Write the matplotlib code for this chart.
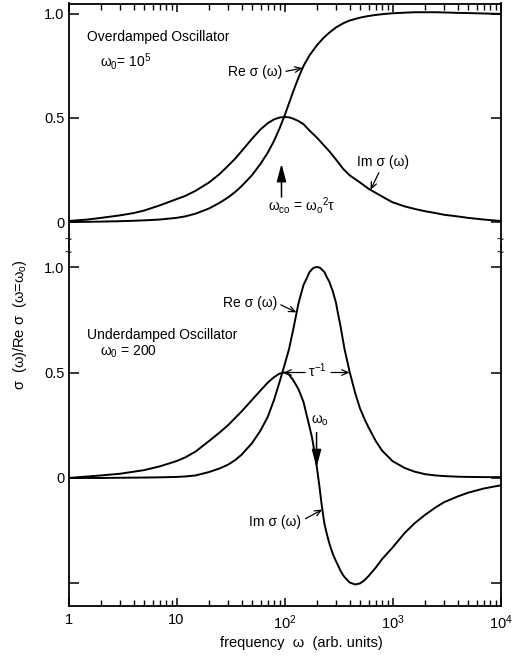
import matplotlib
matplotlib.use("Agg")
import matplotlib.pyplot as plt
from matplotlib.ticker import FixedLocator, LogLocator, NullFormatter, FixedFormatter

plt.rcParams['font.family'] = ['Liberation Sans', 'DejaVu Sans']
plt.rcParams['mathtext.fontset'] = 'custom'
plt.rcParams['mathtext.rm'] = 'Liberation Sans'
plt.rcParams['mathtext.it'] = 'Liberation Sans'
plt.rcParams['mathtext.sf'] = 'Liberation Sans'
plt.rcParams['mathtext.bf'] = 'Liberation Sans:bold'

# ---- Overdamped oscillator (omega_0 = 1e5) ----
freq_over = [1, 1.5, 2, 3, 4, 5, 7, 10, 12, 15, 20, 25, 30, 35, 40, 50, 60,
             70, 80, 90, 100, 110, 120, 135, 150, 170, 200, 230, 260, 300,
             350, 400, 500, 600, 700, 850, 1000, 1300, 1600, 2000, 2500,
             3000, 4000, 5000, 7000, 10000]
re_over = [0.0, 0.001, 0.002, 0.004, 0.006, 0.008, 0.012, 0.02, 0.027, 0.04,
           0.065, 0.092, 0.118, 0.145, 0.172, 0.225, 0.28, 0.333, 0.39, 0.45,
           0.51, 0.57, 0.625, 0.695, 0.75, 0.80, 0.85, 0.885, 0.91, 0.935,
           0.955, 0.968, 0.982, 0.99, 0.995, 1.0, 1.003, 1.006, 1.008, 1.008,
           1.008, 1.007, 1.005, 1.004, 1.002, 1.0]
im_over = [0.005, 0.012, 0.02, 0.032, 0.043, 0.055, 0.08, 0.11, 0.125, 0.15,
           0.19, 0.23, 0.27, 0.305, 0.34, 0.40, 0.445, 0.475, 0.493, 0.502,
           0.505, 0.503, 0.497, 0.485, 0.47, 0.44, 0.405, 0.37, 0.34, 0.30,
           0.255, 0.225, 0.19, 0.16, 0.14, 0.115, 0.095, 0.075, 0.063, 0.052,
           0.043, 0.035, 0.027, 0.02, 0.012, 0.005]

# ---- Underdamped oscillator (omega_0 = 200) ----
freq_under = [1, 2, 3, 5, 7, 10, 12, 15, 20, 25, 30, 35, 40, 50, 60, 70, 80,
              90, 100, 110, 120, 135, 150, 160, 170, 180, 185, 190, 200, 210,
              215, 220, 230, 235, 245, 260, 280, 300, 310, 330, 350, 360, 400,
              450, 500, 550, 600, 700, 800, 1000, 1300, 1600, 2000, 2500,
              3000, 4000, 5000, 7000, 10000]
re_under = [0.0, 0.0, 0.001, 0.002, 0.003, 0.005, 0.007, 0.012, 0.028, 0.045,
            0.063, 0.085, 0.11, 0.165, 0.225, 0.29, 0.37, 0.455, 0.535, 0.61,
            0.70, 0.83, 0.915, 0.945, 0.975, 0.99, 0.995, 0.998, 1.0, 0.998,
            0.995, 0.99, 0.98, 0.975, 0.955, 0.93, 0.885, 0.83, 0.79, 0.72,
            0.645, 0.61, 0.505, 0.405, 0.33, 0.28, 0.24, 0.175, 0.13, 0.08,
            0.047, 0.03, 0.018, 0.012, 0.009, 0.006, 0.005, 0.004, 0.004]
im_under = [0.0, 0.012, 0.02, 0.037, 0.055, 0.08, 0.097, 0.125, 0.175, 0.215,
            0.25, 0.285, 0.315, 0.37, 0.415, 0.452, 0.478, 0.495, 0.50, 0.49,
            0.465, 0.42, 0.36, 0.30, 0.245, 0.19, 0.155, 0.12, 0.045, -0.035,
            -0.078, -0.12, -0.19, -0.22, -0.26, -0.31, -0.36, -0.395, -0.41,
            -0.44, -0.462, -0.47, -0.495, -0.505, -0.50, -0.485, -0.465,
            -0.425, -0.385, -0.33, -0.26, -0.215, -0.175, -0.14, -0.115,
            -0.088, -0.07, -0.05, -0.035]

x_ticks = [1, 10, 100, 1000, 10000]
x_tick_labels = ["1", "10", r"$10^2$", r"$10^3$", r"$10^4$"]
y_ticks_over = [0, 0.5, 1.0]
y_labels_over = ["0", "0.5", "1.0"]
y_ticks_under = [-0.5, 0, 0.5, 1.0]
y_labels_under = ["", "0", "0.5", "1.0"]

W, H = 512, 658
fig = plt.figure(figsize=(W / 100, H / 100), dpi=100)
left, right = 68.5 / W, 500.5 / W
y_top, y_break, y_bot = 1 - 3.5 / H, 1 - 247 / H, 1 - 606 / H
ax_top = fig.add_axes([left, y_break, right - left, y_top - y_break])
ax_bot = fig.add_axes([left, y_bot, right - left, y_break - y_bot])

LW = 1.4
for ax in (ax_top, ax_bot):
    ax.set_xscale('log')
    ax.set_xlim(1, 1e4)
    ax.xaxis.set_major_locator(FixedLocator(x_ticks))
    ax.xaxis.set_minor_locator(LogLocator(base=10, subs=range(2, 10)))
    ax.xaxis.set_minor_formatter(NullFormatter())
    for s in ax.spines.values():
        s.set_linewidth(1.3)
    ax.tick_params(axis='x', which='major', direction='in', length=6, width=1.1)
    ax.tick_params(axis='x', which='minor', direction='in', length=4.3, width=1.0)
    ax.tick_params(axis='y', which='major', direction='in', length=7.2, width=1.1,
                   left=True, right=True, labelsize=10.5, pad=3)

ax_top.plot(freq_over, re_over, color='black', lw=LW)
ax_top.plot(freq_over, im_over, color='black', lw=LW)
ax_bot.plot(freq_under, re_under, color='black', lw=LW)
ax_bot.plot(freq_under, im_under, color='black', lw=LW)

ax_top.set_ylim(-0.12, 1.05)
ax_bot.set_ylim(-0.607, 1.095)

ax_top.spines['bottom'].set_visible(False)
ax_bot.spines['top'].set_visible(False)
ax_top.tick_params(axis='x', which='both', top=True, bottom=False,
                   labeltop=False, labelbottom=False)
ax_bot.tick_params(axis='x', which='both', top=False, bottom=True,
                   labelbottom=True, labelsize=10.5, pad=5)
ax_bot.xaxis.set_major_formatter(FixedFormatter(x_tick_labels))

ax_top.yaxis.set_major_locator(FixedLocator(y_ticks_over))
ax_top.yaxis.set_major_formatter(FixedFormatter(y_labels_over))
ax_bot.yaxis.set_major_locator(FixedLocator(y_ticks_under))
ax_bot.yaxis.set_major_formatter(FixedFormatter(y_labels_under))

# axis break marks on both vertical edges
for xp in (68.5, 500.5):
    for yp in (240.5, 253.5):
        fig.text(xp / W, 1 - yp / H, "~", ha='center', va='center',
                 fontsize=9)

fig.text(301 / W, 1 - 643 / H, "frequency  ω  (arb. units)", ha='center',
         va='center', fontsize=10.5)
fig.text(20 / W, 1 - 325 / H, r"σ  (ω)/Re σ  (ω=$\omega_o$)", ha='center',
         va='center', rotation=90, fontsize=10.5)

FS = 10
small_arrow = dict(arrowstyle='->,head_length=0.45,head_width=0.2', color='black',
                   lw=0.9, shrinkA=1, shrinkB=0)
solid_arrow = dict(arrowstyle='-|>,head_length=1.2,head_width=0.32', color='black',
                   lw=1.1, shrinkA=0, shrinkB=0, mutation_scale=9)

# top panel annotations
ax_top.text(1.47, 0.89, "Overdamped Oscillator", fontsize=FS, va='center')
ax_top.text(1.94, 0.77, r"$\omega_0$= 10$^5$", fontsize=FS, va='center')
ax_top.annotate("Re σ (ω)", xy=(147, 0.74), xytext=(29.7, 0.72), fontsize=FS,
                ha='left', va='center',
                arrowprops=dict(small_arrow, relpos=(1.0, 0.5)))
ax_top.annotate("Im σ (ω)", xy=(625, 0.155), xytext=(474, 0.29), fontsize=FS,
                ha='left', va='center',
                arrowprops=dict(small_arrow, relpos=(0.45, 0.0)))
ax_top.annotate("", xy=(93.8, 0.28), xytext=(93.8, 0.12), arrowprops=solid_arrow)
ax_top.text(71, 0.08, r"$\omega_{co}$ = $\omega_o$$^{2}$τ", fontsize=10,
            ha='left', va='center')

# bottom panel annotations
ax_bot.text(1.47, 0.68, "Underdamped Oscillator", fontsize=FS, va='center')
ax_bot.text(1.94, 0.60, r"$\omega_0$ = 200", fontsize=FS, va='center')
ax_bot.annotate("Re σ (ω)", xy=(129, 0.785), xytext=(26.7, 0.83), fontsize=FS,
                ha='left', va='center',
                arrowprops=dict(small_arrow, relpos=(1.0, 0.5)))
ax_bot.text(202, 0.51, r"$\tau^{-1}$", fontsize=10, ha='center', va='center')
ax_bot.annotate("", xy=(98, 0.5), xytext=(160, 0.5), arrowprops=small_arrow)
ax_bot.annotate("", xy=(400, 0.5), xytext=(262, 0.5), arrowprops=small_arrow)
ax_bot.text(211, 0.27, r"$\omega_o$", fontsize=10, ha='center', va='center')
ax_bot.annotate("", xy=(198, 0.05), xytext=(198, 0.215), arrowprops=solid_arrow)
ax_bot.annotate("Im σ (ω)", xy=(224, -0.15), xytext=(47.4, -0.21), fontsize=FS,
                ha='left', va='center',
                arrowprops=dict(small_arrow, relpos=(1.0, 0.6)))

fig.savefig("out.png", dpi=100)
